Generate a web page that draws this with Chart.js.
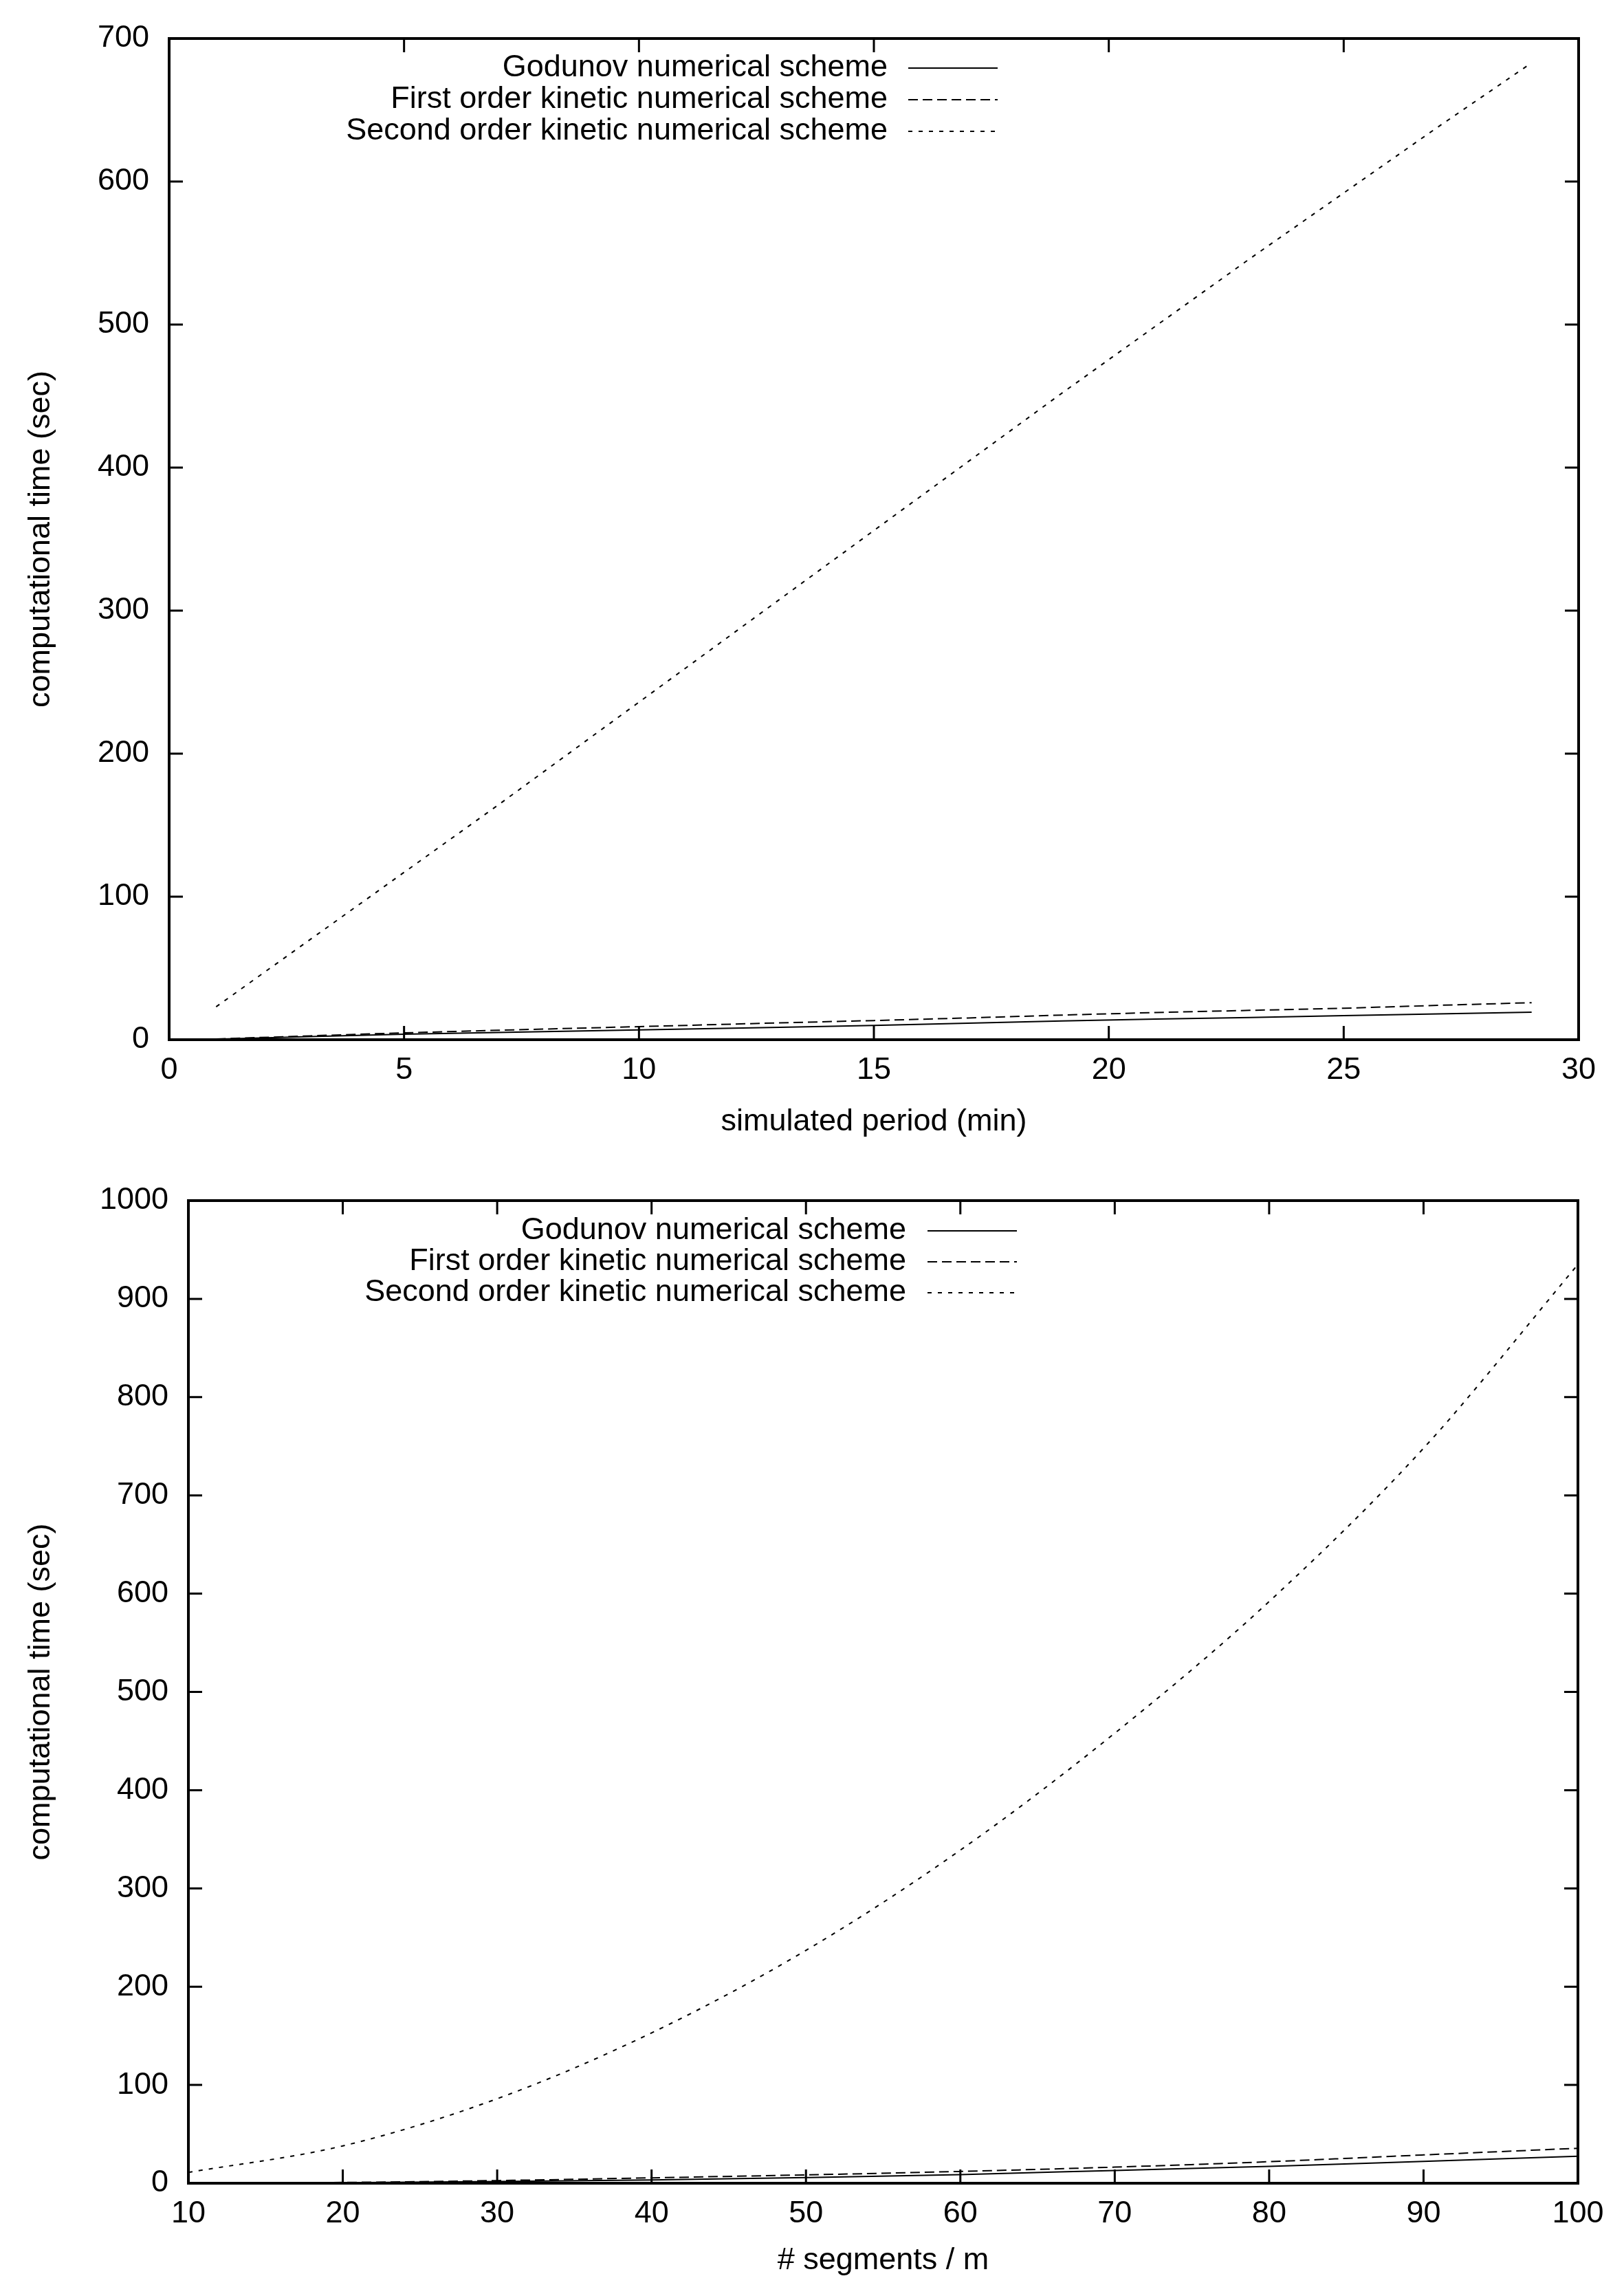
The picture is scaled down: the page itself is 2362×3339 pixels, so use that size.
<!DOCTYPE html>
<html>
<head>
<meta charset="utf-8">
<script src="https://cdn.jsdelivr.net/npm/chart.js@4.4.1/dist/chart.umd.min.js"></script>
<style>
html, body { margin: 0; padding: 0; background: #fff; }
#wrapPeriod { position: absolute; left: 0; top: 0; width: 2362px; height: 1690px; }
#wrapSegments { position: absolute; left: 0; top: 1690px; width: 2362px; height: 1649px; }
</style>
</head>
<body>
<div id="wrapPeriod"><canvas id="periodChart"></canvas></div>
<div id="wrapSegments"><canvas id="segmentsChart"></canvas></div>
<script>
const seriesLabels = ['Godunov numerical scheme', 'First order kinetic numerical scheme', 'Second order kinetic numerical scheme'];

// top plot: simulated period (min)
const periodMinutes = [1, 3, 5, 7, 9, 11, 13, 15, 17, 19, 21, 23, 25, 27, 29];
const periodGodunov = [0.4, 2.2, 3.8, 5.1, 6.2, 7.4, 8.7, 10, 11.5, 13.1, 14.4, 15.5, 16.8, 18, 19.2];
const periodFirstOrder = [0.5, 2.7, 4.8, 6.6, 8.3, 10, 11.8, 13.4, 15.2, 17.2, 19, 20.5, 22, 24, 25.9];
const periodSecondOrder = [23, 70, 117, 164, 212, 260, 308, 356, 404, 452, 499, 546, 592, 638, 683];
const periodTicksX = [0, 5, 10, 15, 20, 25, 30];
const periodTicksY = [0, 100, 200, 300, 400, 500, 600, 700];

// bottom plot: # segments / m
const segmentCounts = [10, 20, 30, 40, 50, 60, 70, 80, 90, 100];
const segmentsGodunov = [0.1, 0.6, 1.8, 3.4, 5.8, 8.8, 13, 17.1, 22.2, 27.4];
const segmentsFirstOrder = [0.1, 0.8, 2.7, 5.5, 8.5, 12, 16.4, 21.9, 28.8, 35.6];
const segmentsSecondOrder = [11, 38, 86, 153, 237, 339, 458, 592, 748, 935];
const segmentTicksX = [10, 20, 30, 40, 50, 60, 70, 80, 90, 100];
const segmentTicksY = [0, 100, 200, 300, 400, 500, 600, 700, 800, 900, 1000];

const lineStyles = [[], [14, 7], [6, 9]];

Chart.defaults.font.family = '"Liberation Sans", Arial, sans-serif';
Chart.defaults.font.size = 45;
Chart.defaults.color = '#000';

function toPoints(xs, ys) {
    return xs.map((x, i) => ({ x: x, y: ys[i] }));
}

function makeDatasets(xs, series, smooth) {
    return series.map((ys, i) => ({
        label: seriesLabels[i],
        data: toPoints(xs, ys),
        borderColor: '#000',
        borderWidth: 2,
        borderDash: lineStyles[i],
        pointRadius: 0,
        fill: false,
        cubicInterpolationMode: smooth ? 'monotone' : 'default',
        tension: 0
    }));
}

// gnuplot style frame: border box + inward ticks on all four sides + key in the top
const gnuplotFrame = {
    id: 'gnuplotFrame',
    afterDatasetsDraw(chart, args, opts) {
        const { ctx, chartArea: a, scales } = chart;
        const sx = scales.x, sy = scales.y;
        ctx.save();
        ctx.strokeStyle = '#000';
        ctx.setLineDash([]);
        ctx.lineWidth = 3;
        ctx.beginPath();
        sx.ticks.forEach(t => {
            if (t.value <= sx.min || t.value >= sx.max) return;
            const px = sx.getPixelForValue(t.value);
            ctx.moveTo(px, a.bottom); ctx.lineTo(px, a.bottom - 20);
            ctx.moveTo(px, a.top); ctx.lineTo(px, a.top + 20);
        });
        sy.ticks.forEach(t => {
            if (t.value <= sy.min || t.value >= sy.max) return;
            const py = sy.getPixelForValue(t.value);
            ctx.moveTo(a.left, py); ctx.lineTo(a.left + 20, py);
            ctx.moveTo(a.right, py); ctx.lineTo(a.right - 20, py);
        });
        ctx.stroke();
        ctx.lineWidth = 4;
        ctx.strokeRect(a.left, a.top, a.right - a.left, a.bottom - a.top);

        // key
        ctx.font = '45px "Liberation Sans", Arial, sans-serif';
        ctx.fillStyle = '#000';
        ctx.textAlign = 'right';
        ctx.textBaseline = 'middle';
        chart.data.datasets.forEach((ds, i) => {
            const y = a.top + opts.keyTop + i * opts.keyGap;
            ctx.fillText(ds.label, opts.keyTextRight, y);
            ctx.lineWidth = ds.borderWidth;
            ctx.setLineDash(ds.borderDash);
            ctx.beginPath();
            ctx.moveTo(opts.keyLineStart, y);
            ctx.lineTo(opts.keyLineEnd, y);
            ctx.stroke();
        });
        ctx.restore();
    }
};

function renderChart(canvasId, cfg) {
    const ctx = document.getElementById(canvasId).getContext('2d');
    return new Chart(ctx, {
        type: 'line',
        data: { datasets: cfg.datasets },
        plugins: [gnuplotFrame],
        options: {
            responsive: true,
            maintainAspectRatio: false,
            animation: false,
            devicePixelRatio: 1,
            layout: { padding: { left: 0, right: cfg.padRight, top: cfg.padTop, bottom: 0 } },
            plugins: {
                legend: { display: false },
                tooltip: { enabled: false },
                gnuplotFrame: cfg.key
            },
            scales: {
                x: {
                    type: 'linear',
                    min: cfg.ticksX[0],
                    max: cfg.ticksX[cfg.ticksX.length - 1],
                    afterBuildTicks: s => { s.ticks = cfg.ticksX.map(v => ({ value: v })); },
                    afterFit: s => { s.height = cfg.xHeight; },
                    grid: { display: false, drawTicks: false },
                    border: { display: false },
                    ticks: { padding: 18, maxRotation: 0, autoSkip: false, callback: v => String(v) },
                    title: { display: true, text: cfg.titleX, padding: { top: 0, bottom: cfg.titleXPad } }
                },
                y: {
                    type: 'linear',
                    min: cfg.ticksY[0],
                    max: cfg.ticksY[cfg.ticksY.length - 1],
                    afterBuildTicks: s => { s.ticks = cfg.ticksY.map(v => ({ value: v })); },
                    afterFit: s => { s.width = cfg.yWidth; },
                    grid: { display: false, drawTicks: false },
                    border: { display: false },
                    ticks: { padding: 29, autoSkip: false, callback: v => String(v) },
                    title: { display: true, text: 'computational time (sec)', padding: { top: 33, bottom: 0 } }
                }
            }
        }
    });
}

renderChart('periodChart', {
    datasets: makeDatasets(periodMinutes, [periodGodunov, periodFirstOrder, periodSecondOrder], false),
    ticksX: periodTicksX,
    ticksY: periodTicksY,
    titleX: 'simulated period (min)',
    padRight: 66,
    padTop: 52,
    xHeight: 178,
    yWidth: 246,
    titleXPad: 31,
    key: { keyTop: 43, keyGap: 46, keyTextRight: 1291, keyLineStart: 1321, keyLineEnd: 1451 }
});

renderChart('segmentsChart', {
    datasets: makeDatasets(segmentCounts, [segmentsGodunov, segmentsFirstOrder, segmentsSecondOrder], true),
    ticksX: segmentTicksX,
    ticksY: segmentTicksY,
    titleX: '# segments / m',
    padRight: 67,
    padTop: 24,
    xHeight: 164,
    yWidth: 274,
    titleXPad: 24,
    key: { keyTop: 44, keyGap: 45, keyTextRight: 1318, keyLineStart: 1349, keyLineEnd: 1479 }
});
</script>
</body>
</html>
